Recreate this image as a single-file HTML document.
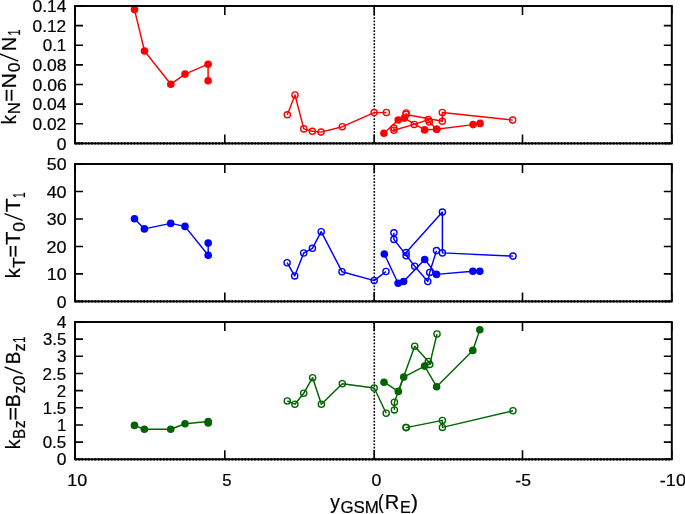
<!DOCTYPE html><html><head><meta charset="utf-8"><style>html,body{margin:0;padding:0;background:#fff;overflow:hidden}svg{display:block;will-change:transform;filter:blur(0.4px)}text{font-family:"Liberation Sans",sans-serif;fill:#000;stroke:#000;stroke-width:0.22px}</style></head><body>
<svg width="685" height="514" viewBox="0 0 685 514">
<line x1="374.30" y1="6.00" x2="374.30" y2="143.40" stroke="#000" stroke-width="1.55" stroke-dasharray="1.75,1.51" stroke-dashoffset="-1.46"/>
<line x1="75.00" y1="143.40" x2="671.80" y2="143.40" stroke="#000" stroke-width="2.3" stroke-dasharray="1.6,1.66"/>
<text x="56.84" y="149.50" font-size="16.95" textLength="9.73" lengthAdjust="spacingAndGlyphs">0</text>
<text x="32.50" y="129.87" font-size="16.95" textLength="33.72" lengthAdjust="spacingAndGlyphs">0.02</text>
<text x="32.50" y="110.24" font-size="16.95" textLength="34.07" lengthAdjust="spacingAndGlyphs">0.04</text>
<text x="32.49" y="90.61" font-size="16.95" textLength="34.22" lengthAdjust="spacingAndGlyphs">0.06</text>
<text x="32.49" y="70.99" font-size="16.95" textLength="34.12" lengthAdjust="spacingAndGlyphs">0.08</text>
<text x="42.70" y="51.36" font-size="16.95" textLength="23.61" lengthAdjust="spacingAndGlyphs">0.1</text>
<text x="32.50" y="31.73" font-size="16.95" textLength="33.72" lengthAdjust="spacingAndGlyphs">0.12</text>
<text x="32.50" y="12.10" font-size="16.95" textLength="34.07" lengthAdjust="spacingAndGlyphs">0.14</text>
<line x1="374.30" y1="164.00" x2="374.30" y2="301.40" stroke="#000" stroke-width="1.55" stroke-dasharray="1.75,1.51" stroke-dashoffset="-0.86"/>
<line x1="75.00" y1="301.40" x2="671.80" y2="301.40" stroke="#000" stroke-width="2.3" stroke-dasharray="1.6,1.66"/>
<text x="56.84" y="307.50" font-size="16.95" textLength="9.73" lengthAdjust="spacingAndGlyphs">0</text>
<text x="46.69" y="280.02" font-size="16.95" textLength="19.90" lengthAdjust="spacingAndGlyphs">10</text>
<text x="46.56" y="252.54" font-size="16.95" textLength="20.03" lengthAdjust="spacingAndGlyphs">20</text>
<text x="46.83" y="225.06" font-size="16.95" textLength="19.75" lengthAdjust="spacingAndGlyphs">30</text>
<text x="46.66" y="197.58" font-size="16.95" textLength="19.93" lengthAdjust="spacingAndGlyphs">40</text>
<text x="46.81" y="170.10" font-size="16.95" textLength="19.77" lengthAdjust="spacingAndGlyphs">50</text>
<line x1="374.30" y1="322.00" x2="374.30" y2="459.30" stroke="#000" stroke-width="1.55" stroke-dasharray="1.75,1.51" stroke-dashoffset="-0.96"/>
<line x1="75.00" y1="459.30" x2="671.80" y2="459.30" stroke="#000" stroke-width="2.3" stroke-dasharray="1.6,1.66"/>
<text x="56.84" y="465.40" font-size="16.95" textLength="9.73" lengthAdjust="spacingAndGlyphs">0</text>
<text x="42.70" y="448.24" font-size="16.95" textLength="23.57" lengthAdjust="spacingAndGlyphs">0.5</text>
<text x="56.95" y="431.08" font-size="16.95" textLength="9.35" lengthAdjust="spacingAndGlyphs">1</text>
<text x="42.78" y="413.91" font-size="16.95" textLength="23.49" lengthAdjust="spacingAndGlyphs">1.5</text>
<text x="56.79" y="396.75" font-size="16.95" textLength="9.41" lengthAdjust="spacingAndGlyphs">2</text>
<text x="42.62" y="379.59" font-size="16.95" textLength="23.64" lengthAdjust="spacingAndGlyphs">2.5</text>
<text x="57.05" y="362.43" font-size="16.95" textLength="9.36" lengthAdjust="spacingAndGlyphs">3</text>
<text x="42.88" y="345.26" font-size="16.95" textLength="23.37" lengthAdjust="spacingAndGlyphs">3.5</text>
<text x="56.85" y="328.10" font-size="16.95" textLength="9.71" lengthAdjust="spacingAndGlyphs">4</text>
<text x="67.21" y="485.50" font-size="16.95" textLength="20.01" lengthAdjust="spacingAndGlyphs">10</text>
<text x="222.27" y="485.50" font-size="16.95" textLength="9.32" lengthAdjust="spacingAndGlyphs">5</text>
<text x="371.52" y="485.50" font-size="16.95" textLength="9.85" lengthAdjust="spacingAndGlyphs">0</text>
<text x="515.38" y="485.50" font-size="16.95" textLength="15.70" lengthAdjust="spacingAndGlyphs">-5</text>
<text x="659.81" y="485.50" font-size="16.95" textLength="26.20" lengthAdjust="spacingAndGlyphs">-10</text>
<text x="330.25" y="508.60" font-size="20" textLength="9.58" lengthAdjust="spacingAndGlyphs">y</text>
<text x="340.45" y="513.20" font-size="16" textLength="38.33" lengthAdjust="spacingAndGlyphs">GSM</text>
<text x="378.05" y="508.60" font-size="20" textLength="5.65" lengthAdjust="spacingAndGlyphs">(</text>
<text x="384.86" y="508.60" font-size="20" textLength="14.47" lengthAdjust="spacingAndGlyphs">R</text>
<text x="399.98" y="513.20" font-size="16" textLength="10.71" lengthAdjust="spacingAndGlyphs">E</text>
<text x="410.98" y="508.60" font-size="20" textLength="7.03" lengthAdjust="spacingAndGlyphs">)</text>
<text transform="rotate(-90)" x="-124.13" y="15.90" font-size="20" textLength="9.10" lengthAdjust="spacingAndGlyphs">k</text>
<text transform="rotate(-90)" x="-114.38" y="20.40" font-size="16" textLength="12.15" lengthAdjust="spacingAndGlyphs">N</text>
<text transform="rotate(-90)" x="-101.78" y="15.90" font-size="20" textLength="12.86" lengthAdjust="spacingAndGlyphs">=</text>
<text transform="rotate(-90)" x="-88.45" y="15.90" font-size="20" textLength="15.38" lengthAdjust="spacingAndGlyphs">N</text>
<text transform="rotate(-90)" x="-72.39" y="20.40" font-size="16" textLength="9.77" lengthAdjust="spacingAndGlyphs">0</text>
<text transform="rotate(-90)" x="-51.34" y="15.90" font-size="20" textLength="14.48" lengthAdjust="spacingAndGlyphs">N</text>
<text transform="rotate(-90)" x="-35.43" y="20.40" font-size="16" textLength="6.06" lengthAdjust="spacingAndGlyphs">1</text>
<line x1="18.2" y1="61.2" x2="-0.3" y2="54.0" stroke="#000" stroke-width="1.4"/>
<text transform="rotate(-90)" x="-278.13" y="19.90" font-size="20" textLength="9.91" lengthAdjust="spacingAndGlyphs">k</text>
<text transform="rotate(-90)" x="-268.09" y="24.70" font-size="16" textLength="10.70" lengthAdjust="spacingAndGlyphs">T</text>
<text transform="rotate(-90)" x="-257.55" y="19.90" font-size="20" textLength="12.50" lengthAdjust="spacingAndGlyphs">=</text>
<text transform="rotate(-90)" x="-245.10" y="19.90" font-size="20" textLength="13.50" lengthAdjust="spacingAndGlyphs">T</text>
<text transform="rotate(-90)" x="-231.69" y="24.70" font-size="16" textLength="9.77" lengthAdjust="spacingAndGlyphs">0</text>
<text transform="rotate(-90)" x="-212.31" y="19.90" font-size="20" textLength="13.94" lengthAdjust="spacingAndGlyphs">T</text>
<text transform="rotate(-90)" x="-197.90" y="24.70" font-size="16" textLength="5.80" lengthAdjust="spacingAndGlyphs">1</text>
<line x1="22.6" y1="220.4" x2="4.6" y2="213.6" stroke="#000" stroke-width="1.4"/>
<text transform="rotate(-90)" x="-449.30" y="20.00" font-size="20" textLength="9.68" lengthAdjust="spacingAndGlyphs">k</text>
<text transform="rotate(-90)" x="-438.95" y="24.80" font-size="16" textLength="10.15" lengthAdjust="spacingAndGlyphs">B</text>
<text transform="rotate(-90)" x="-428.35" y="24.80" font-size="16" textLength="8.06" lengthAdjust="spacingAndGlyphs">z</text>
<text transform="rotate(-90)" x="-420.86" y="20.00" font-size="20" textLength="13.82" lengthAdjust="spacingAndGlyphs">=</text>
<text transform="rotate(-90)" x="-407.20" y="20.00" font-size="20" textLength="13.03" lengthAdjust="spacingAndGlyphs">B</text>
<text transform="rotate(-90)" x="-393.43" y="24.80" font-size="16" textLength="7.81" lengthAdjust="spacingAndGlyphs">z</text>
<text transform="rotate(-90)" x="-385.40" y="24.80" font-size="16" textLength="10.01" lengthAdjust="spacingAndGlyphs">0</text>
<text transform="rotate(-90)" x="-364.14" y="20.00" font-size="20" textLength="12.53" lengthAdjust="spacingAndGlyphs">B</text>
<text transform="rotate(-90)" x="-351.47" y="24.80" font-size="16" textLength="8.30" lengthAdjust="spacingAndGlyphs">z</text>
<text transform="rotate(-90)" x="-342.73" y="24.80" font-size="16" textLength="6.06" lengthAdjust="spacingAndGlyphs">1</text>
<line x1="22.6" y1="373.9" x2="4.7" y2="367.0" stroke="#000" stroke-width="1.4"/>
<path d="M287.3,114.8 L295.0,95.0 L303.8,128.9 L312.3,131.3 L321.0,132.1 L342.3,126.7 L374.1,112.6 L386.4,112.5" stroke="#ff0000" stroke-width="1.45" fill="none" stroke-linejoin="round"/>
<circle cx="287.3" cy="114.8" r="3.1" fill="none" stroke="#ff0000" stroke-width="1.35"/>
<circle cx="295.0" cy="95.0" r="3.1" fill="none" stroke="#ff0000" stroke-width="1.35"/>
<circle cx="303.8" cy="128.9" r="3.1" fill="none" stroke="#ff0000" stroke-width="1.35"/>
<circle cx="312.3" cy="131.3" r="3.1" fill="none" stroke="#ff0000" stroke-width="1.35"/>
<circle cx="321.0" cy="132.1" r="3.1" fill="none" stroke="#ff0000" stroke-width="1.35"/>
<circle cx="342.3" cy="126.7" r="3.1" fill="none" stroke="#ff0000" stroke-width="1.35"/>
<circle cx="374.1" cy="112.6" r="3.1" fill="none" stroke="#ff0000" stroke-width="1.35"/>
<circle cx="386.4" cy="112.5" r="3.1" fill="none" stroke="#ff0000" stroke-width="1.35"/>
<path d="M393.9,128.1 L393.9,130.2 L414.2,124.4 L428.3,119.6 L429.3,122.0 L436.7,129.2" stroke="#ff0000" stroke-width="1.45" fill="none" stroke-linejoin="round"/>
<circle cx="393.9" cy="128.1" r="3.1" fill="none" stroke="#ff0000" stroke-width="1.35"/>
<circle cx="393.9" cy="130.2" r="3.1" fill="none" stroke="#ff0000" stroke-width="1.35"/>
<circle cx="414.2" cy="124.4" r="3.1" fill="none" stroke="#ff0000" stroke-width="1.35"/>
<circle cx="428.3" cy="119.6" r="3.1" fill="none" stroke="#ff0000" stroke-width="1.35"/>
<circle cx="429.3" cy="122.0" r="3.1" fill="none" stroke="#ff0000" stroke-width="1.35"/>
<circle cx="436.7" cy="129.2" r="3.1" fill="none" stroke="#ff0000" stroke-width="1.35"/>
<path d="M406.1,113.0 L406.1,114.5 L442.3,121.3 L442.3,112.5 L512.7,120.1" stroke="#ff0000" stroke-width="1.45" fill="none" stroke-linejoin="round"/>
<circle cx="406.1" cy="113.0" r="3.1" fill="none" stroke="#ff0000" stroke-width="1.35"/>
<circle cx="406.1" cy="114.5" r="3.1" fill="none" stroke="#ff0000" stroke-width="1.35"/>
<circle cx="442.3" cy="121.3" r="3.1" fill="none" stroke="#ff0000" stroke-width="1.35"/>
<circle cx="442.3" cy="112.5" r="3.1" fill="none" stroke="#ff0000" stroke-width="1.35"/>
<circle cx="512.7" cy="120.1" r="3.1" fill="none" stroke="#ff0000" stroke-width="1.35"/>
<path d="M134.5,9.6 L144.5,51.0 L170.8,84.2 L185.0,74.1 L208.1,64.2 L208.1,80.8" stroke="#ff0000" stroke-width="1.45" fill="none" stroke-linejoin="round"/>
<circle cx="134.5" cy="9.6" r="3.8" fill="#ff0000"/>
<circle cx="144.5" cy="51.0" r="3.8" fill="#ff0000"/>
<circle cx="170.8" cy="84.2" r="3.8" fill="#ff0000"/>
<circle cx="185.0" cy="74.1" r="3.8" fill="#ff0000"/>
<circle cx="208.1" cy="64.2" r="3.8" fill="#ff0000"/>
<circle cx="208.1" cy="80.8" r="3.8" fill="#ff0000"/>
<path d="M383.9,133.3 L398.2,120.0 L404.3,118.1 L424.6,129.9 L436.7,129.2 L473.1,124.6 L480.1,123.4" stroke="#ff0000" stroke-width="1.45" fill="none" stroke-linejoin="round"/>
<circle cx="383.9" cy="133.3" r="3.8" fill="#ff0000"/>
<circle cx="398.2" cy="120.0" r="3.8" fill="#ff0000"/>
<circle cx="404.3" cy="118.1" r="3.8" fill="#ff0000"/>
<circle cx="424.6" cy="129.9" r="3.8" fill="#ff0000"/>
<circle cx="436.7" cy="129.2" r="3.8" fill="#ff0000"/>
<circle cx="473.1" cy="124.6" r="3.8" fill="#ff0000"/>
<circle cx="480.1" cy="123.4" r="3.8" fill="#ff0000"/>
<path d="M287.1,262.7 L294.7,275.9 L303.7,253.0 L312.4,248.3 L321.2,231.7 L342.0,271.7 L374.2,280.6 L386.0,271.5" stroke="#0000ff" stroke-width="1.45" fill="none" stroke-linejoin="round"/>
<circle cx="287.1" cy="262.7" r="3.1" fill="none" stroke="#0000ff" stroke-width="1.35"/>
<circle cx="294.7" cy="275.9" r="3.1" fill="none" stroke="#0000ff" stroke-width="1.35"/>
<circle cx="303.7" cy="253.0" r="3.1" fill="none" stroke="#0000ff" stroke-width="1.35"/>
<circle cx="312.4" cy="248.3" r="3.1" fill="none" stroke="#0000ff" stroke-width="1.35"/>
<circle cx="321.2" cy="231.7" r="3.1" fill="none" stroke="#0000ff" stroke-width="1.35"/>
<circle cx="342.0" cy="271.7" r="3.1" fill="none" stroke="#0000ff" stroke-width="1.35"/>
<circle cx="374.2" cy="280.6" r="3.1" fill="none" stroke="#0000ff" stroke-width="1.35"/>
<circle cx="386.0" cy="271.5" r="3.1" fill="none" stroke="#0000ff" stroke-width="1.35"/>
<path d="M393.9,232.8 L393.9,239.4 L414.7,266.3 L427.8,281.5 L429.7,272.4 L436.5,250.6" stroke="#0000ff" stroke-width="1.45" fill="none" stroke-linejoin="round"/>
<circle cx="393.9" cy="232.8" r="3.1" fill="none" stroke="#0000ff" stroke-width="1.35"/>
<circle cx="393.9" cy="239.4" r="3.1" fill="none" stroke="#0000ff" stroke-width="1.35"/>
<circle cx="414.7" cy="266.3" r="3.1" fill="none" stroke="#0000ff" stroke-width="1.35"/>
<circle cx="427.8" cy="281.5" r="3.1" fill="none" stroke="#0000ff" stroke-width="1.35"/>
<circle cx="429.7" cy="272.4" r="3.1" fill="none" stroke="#0000ff" stroke-width="1.35"/>
<circle cx="436.5" cy="250.6" r="3.1" fill="none" stroke="#0000ff" stroke-width="1.35"/>
<path d="M406.1,255.7 L406.1,252.6 L442.4,212.1 L442.4,252.9 L513.0,256.1" stroke="#0000ff" stroke-width="1.45" fill="none" stroke-linejoin="round"/>
<circle cx="406.1" cy="255.7" r="3.1" fill="none" stroke="#0000ff" stroke-width="1.35"/>
<circle cx="406.1" cy="252.6" r="3.1" fill="none" stroke="#0000ff" stroke-width="1.35"/>
<circle cx="442.4" cy="212.1" r="3.1" fill="none" stroke="#0000ff" stroke-width="1.35"/>
<circle cx="442.4" cy="252.9" r="3.1" fill="none" stroke="#0000ff" stroke-width="1.35"/>
<circle cx="513.0" cy="256.1" r="3.1" fill="none" stroke="#0000ff" stroke-width="1.35"/>
<path d="M134.5,218.8 L144.4,228.9 L170.7,223.4 L185.0,226.4 L208.2,255.3 L208.2,243.1" stroke="#0000ff" stroke-width="1.45" fill="none" stroke-linejoin="round"/>
<circle cx="134.5" cy="218.8" r="3.8" fill="#0000ff"/>
<circle cx="144.4" cy="228.9" r="3.8" fill="#0000ff"/>
<circle cx="170.7" cy="223.4" r="3.8" fill="#0000ff"/>
<circle cx="185.0" cy="226.4" r="3.8" fill="#0000ff"/>
<circle cx="208.2" cy="255.3" r="3.8" fill="#0000ff"/>
<circle cx="208.2" cy="243.1" r="3.8" fill="#0000ff"/>
<path d="M384.3,254.0 L398.1,283.3 L403.6,281.5 L424.7,259.5 L436.5,274.4 L472.8,271.2 L479.8,271.2" stroke="#0000ff" stroke-width="1.45" fill="none" stroke-linejoin="round"/>
<circle cx="384.3" cy="254.0" r="3.8" fill="#0000ff"/>
<circle cx="398.1" cy="283.3" r="3.8" fill="#0000ff"/>
<circle cx="403.6" cy="281.5" r="3.8" fill="#0000ff"/>
<circle cx="424.7" cy="259.5" r="3.8" fill="#0000ff"/>
<circle cx="436.5" cy="274.4" r="3.8" fill="#0000ff"/>
<circle cx="472.8" cy="271.2" r="3.8" fill="#0000ff"/>
<circle cx="479.8" cy="271.2" r="3.8" fill="#0000ff"/>
<path d="M287.3,401.0 L294.9,404.2 L303.7,393.3 L312.6,377.7 L321.4,404.2 L342.3,383.7 L374.2,388.0 L386.2,413.2" stroke="#006400" stroke-width="1.45" fill="none" stroke-linejoin="round"/>
<circle cx="287.3" cy="401.0" r="3.1" fill="none" stroke="#006400" stroke-width="1.35"/>
<circle cx="294.9" cy="404.2" r="3.1" fill="none" stroke="#006400" stroke-width="1.35"/>
<circle cx="303.7" cy="393.3" r="3.1" fill="none" stroke="#006400" stroke-width="1.35"/>
<circle cx="312.6" cy="377.7" r="3.1" fill="none" stroke="#006400" stroke-width="1.35"/>
<circle cx="321.4" cy="404.2" r="3.1" fill="none" stroke="#006400" stroke-width="1.35"/>
<circle cx="342.3" cy="383.7" r="3.1" fill="none" stroke="#006400" stroke-width="1.35"/>
<circle cx="374.2" cy="388.0" r="3.1" fill="none" stroke="#006400" stroke-width="1.35"/>
<circle cx="386.2" cy="413.2" r="3.1" fill="none" stroke="#006400" stroke-width="1.35"/>
<path d="M394.4,409.9 L394.4,402.2 L414.7,346.2 L428.3,361.5 L429.7,364.4 L437.0,334.0" stroke="#006400" stroke-width="1.45" fill="none" stroke-linejoin="round"/>
<circle cx="394.4" cy="409.9" r="3.1" fill="none" stroke="#006400" stroke-width="1.35"/>
<circle cx="394.4" cy="402.2" r="3.1" fill="none" stroke="#006400" stroke-width="1.35"/>
<circle cx="414.7" cy="346.2" r="3.1" fill="none" stroke="#006400" stroke-width="1.35"/>
<circle cx="428.3" cy="361.5" r="3.1" fill="none" stroke="#006400" stroke-width="1.35"/>
<circle cx="429.7" cy="364.4" r="3.1" fill="none" stroke="#006400" stroke-width="1.35"/>
<circle cx="437.0" cy="334.0" r="3.1" fill="none" stroke="#006400" stroke-width="1.35"/>
<path d="M406.1,427.4 L406.1,427.6 L442.4,420.4 L442.4,427.4 L513.0,410.8" stroke="#006400" stroke-width="1.45" fill="none" stroke-linejoin="round"/>
<circle cx="406.1" cy="427.4" r="3.1" fill="none" stroke="#006400" stroke-width="1.35"/>
<circle cx="406.1" cy="427.6" r="3.1" fill="none" stroke="#006400" stroke-width="1.35"/>
<circle cx="442.4" cy="420.4" r="3.1" fill="none" stroke="#006400" stroke-width="1.35"/>
<circle cx="442.4" cy="427.4" r="3.1" fill="none" stroke="#006400" stroke-width="1.35"/>
<circle cx="513.0" cy="410.8" r="3.1" fill="none" stroke="#006400" stroke-width="1.35"/>
<path d="M134.5,425.4 L144.4,429.3 L170.7,429.3 L185.0,423.8 L208.2,421.5 L208.2,423.0" stroke="#006400" stroke-width="1.45" fill="none" stroke-linejoin="round"/>
<circle cx="134.5" cy="425.4" r="3.8" fill="#006400"/>
<circle cx="144.4" cy="429.3" r="3.8" fill="#006400"/>
<circle cx="170.7" cy="429.3" r="3.8" fill="#006400"/>
<circle cx="185.0" cy="423.8" r="3.8" fill="#006400"/>
<circle cx="208.2" cy="421.5" r="3.8" fill="#006400"/>
<circle cx="208.2" cy="423.0" r="3.8" fill="#006400"/>
<path d="M384.0,382.2 L398.3,391.4 L403.7,377.1 L424.6,366.1 L436.6,386.7 L472.8,350.4 L479.8,329.8" stroke="#006400" stroke-width="1.45" fill="none" stroke-linejoin="round"/>
<circle cx="384.0" cy="382.2" r="3.8" fill="#006400"/>
<circle cx="398.3" cy="391.4" r="3.8" fill="#006400"/>
<circle cx="403.7" cy="377.1" r="3.8" fill="#006400"/>
<circle cx="424.6" cy="366.1" r="3.8" fill="#006400"/>
<circle cx="436.6" cy="386.7" r="3.8" fill="#006400"/>
<circle cx="472.8" cy="350.4" r="3.8" fill="#006400"/>
<circle cx="479.8" cy="329.8" r="3.8" fill="#006400"/>
<path d="M75.00,143.40h8M671.80,143.40h-8M75.00,123.77h8M671.80,123.77h-8M75.00,104.14h8M671.80,104.14h-8M75.00,84.51h8M671.80,84.51h-8M75.00,64.89h8M671.80,64.89h-8M75.00,45.26h8M671.80,45.26h-8M75.00,25.63h8M671.80,25.63h-8M75.00,6.00h8M671.80,6.00h-8M75.00,143.40v-9M75.00,6.00v9M224.80,143.40v-9M224.80,6.00v9M374.20,143.40v-9M374.20,6.00v9M522.50,143.40v-9M522.50,6.00v9M671.80,143.40v-9M671.80,6.00v9" stroke="#000" stroke-width="1.6" fill="none"/>
<rect x="75.00" y="6.00" width="596.80" height="137.40" fill="none" stroke="#000" stroke-width="1.95"/>
<path d="M75.00,301.40h8M671.80,301.40h-8M75.00,273.92h8M671.80,273.92h-8M75.00,246.44h8M671.80,246.44h-8M75.00,218.96h8M671.80,218.96h-8M75.00,191.48h8M671.80,191.48h-8M75.00,164.00h8M671.80,164.00h-8M75.00,301.40v-9M75.00,164.00v9M224.80,301.40v-9M224.80,164.00v9M374.20,301.40v-9M374.20,164.00v9M522.50,301.40v-9M522.50,164.00v9M671.80,301.40v-9M671.80,164.00v9" stroke="#000" stroke-width="1.6" fill="none"/>
<rect x="75.00" y="164.00" width="596.80" height="137.40" fill="none" stroke="#000" stroke-width="1.95"/>
<path d="M75.00,459.30h8M671.80,459.30h-8M75.00,442.14h8M671.80,442.14h-8M75.00,424.98h8M671.80,424.98h-8M75.00,407.81h8M671.80,407.81h-8M75.00,390.65h8M671.80,390.65h-8M75.00,373.49h8M671.80,373.49h-8M75.00,356.32h8M671.80,356.32h-8M75.00,339.16h8M671.80,339.16h-8M75.00,322.00h8M671.80,322.00h-8M75.00,459.30v-9M75.00,322.00v9M224.80,459.30v-9M224.80,322.00v9M374.20,459.30v-9M374.20,322.00v9M522.50,459.30v-9M522.50,322.00v9M671.80,459.30v-9M671.80,322.00v9" stroke="#000" stroke-width="1.6" fill="none"/>
<rect x="75.00" y="322.00" width="596.80" height="137.30" fill="none" stroke="#000" stroke-width="1.95"/>
</svg></body></html>
